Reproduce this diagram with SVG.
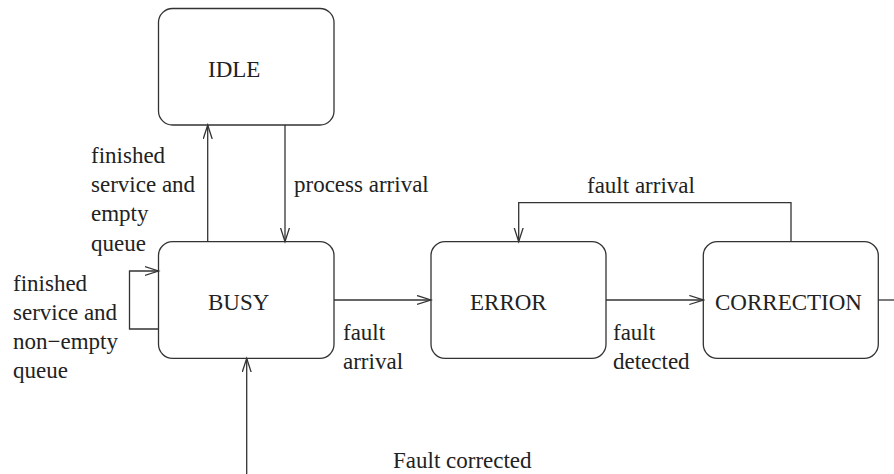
<svg xmlns="http://www.w3.org/2000/svg" width="894" height="474" viewBox="0 0 894 474">
  <style>
    .state { fill: #ffffff; stroke: #333333; stroke-width: 1.3; }
    .edge { fill: none; stroke: #333333; stroke-width: 1.3; }
    text { font-family: "Liberation Serif", "Times New Roman", serif; font-size: 23px; fill: #222222; }
  </style>
  <defs>
    <marker id="open-arrow" markerUnits="userSpaceOnUse" markerWidth="16" markerHeight="12" refX="14" refY="5" orient="auto">
      <path d="M0,0.5 L14,5 L0,9.5" fill="none" stroke="#333333" stroke-width="1.3"/>
    </marker>
  </defs>

  <rect width="894" height="474" fill="#ffffff"/>

  <!-- states -->
  <g id="idle">
    <rect class="state" x="158.5" y="8.5" width="175.5" height="116.5" rx="14"/>
    <text x="208" y="77">IDLE</text>
  </g>
  <g id="busy">
    <rect class="state" x="158.5" y="241.7" width="175.5" height="116.6" rx="14"/>
    <text x="208" y="310">BUSY</text>
  </g>
  <g id="error">
    <rect class="state" x="431" y="241.7" width="175" height="116.6" rx="14"/>
    <text x="470" y="310">ERROR</text>
  </g>
  <g id="correction">
    <rect class="state" x="703.3" y="241.7" width="175" height="116.6" rx="14"/>
    <text x="715" y="310">CORRECTION</text>
  </g>

  <!-- transitions -->
  <g id="connectors">
    <path class="edge" d="M207.7,241.7 L207.7,125" marker-end="url(#open-arrow)"/>
    <path class="edge" d="M285,125 L285,241.7" marker-end="url(#open-arrow)"/>
    <path class="edge" d="M158.5,329 L129.5,329 L129.5,271 L158.5,271" marker-end="url(#open-arrow)"/>
    <path class="edge" d="M334,300 L431,300" marker-end="url(#open-arrow)"/>
    <path class="edge" d="M606,300 L703.3,300" marker-end="url(#open-arrow)"/>
    <path class="edge" d="M791,241.7 L791,202.7 L518.7,202.7 L518.7,241.7" marker-end="url(#open-arrow)"/>
    <path class="edge" d="M878.3,300 L894,300"/>
    <path class="edge" d="M246.7,474 L246.7,358.3" marker-end="url(#open-arrow)"/>
  </g>

  <!-- transition labels -->
  <g id="labels">
    <text x="91" y="163">finished</text>
    <text x="91" y="192">service and</text>
    <text x="91" y="221">empty</text>
    <text x="91" y="251">queue</text>

    <text x="294" y="192">process arrival</text>

    <text x="13" y="291">finished</text>
    <text x="13" y="320">service and</text>
    <text x="13" y="349">non−empty</text>
    <text x="13" y="378">queue</text>

    <text x="343" y="340">fault</text>
    <text x="343" y="369">arrival</text>

    <text x="613" y="340">fault</text>
    <text x="613" y="369">detected</text>

    <text x="587" y="193">fault arrival</text>

    <text x="393" y="468">Fault corrected</text>
  </g>
</svg>
